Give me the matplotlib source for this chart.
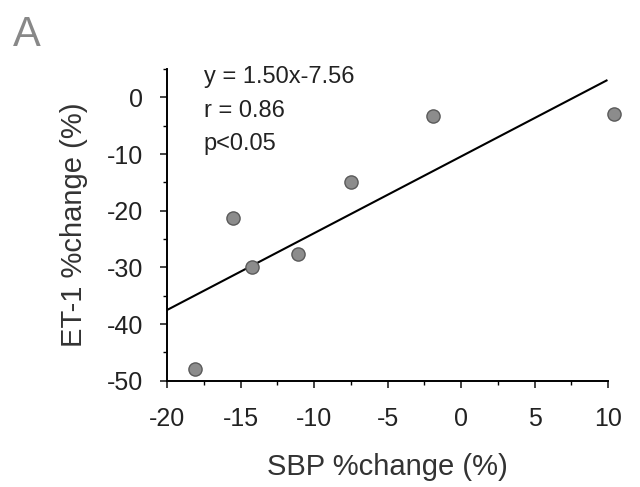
import matplotlib
matplotlib.use('Agg')
import matplotlib.pyplot as plt
from matplotlib.ticker import MultipleLocator

plt.rcParams['font.family'] = ['Liberation Sans', 'DejaVu Sans']
plt.rcParams['axes.unicode_minus'] = False

# SBP and ET-1 percent change
sbp_change = [-18.1, -15.5, -14.2, -11.1, -7.5, -1.9, 10.4]
et1_change = [-47.9, -21.2, -29.9, -27.6, -15.0, -3.2, -3.0]

# regression line as drawn
fit_x = [-20, 9.9]
fit_y = [-37.5, 3.0]

stats_lines = ['y = 1.50x-7.56', 'r = 0.86', 'p<0.05']
x_ticks = [-20, -15, -10, -5, 0, 5, 10]
y_ticks = [0, -10, -20, -30, -40, -50]

fig = plt.figure(figsize=(6.4, 4.87), dpi=100)
ax = fig.add_axes([0.261, 0.218, 0.689, 0.640])

ax.plot(fit_x, fit_y, color='black', lw=1.5)
ax.plot(sbp_change, et1_change, 'o', ms=9.5, mfc='#8c8c8c', mec='#5a5a5a',
        mew=1.0, clip_on=False, zorder=3)

ax.set_xlim(-20, 10)
ax.set_ylim(-50, 5)
ax.set_xticks(x_ticks)
ax.set_yticks(y_ticks)
ax.xaxis.set_minor_locator(MultipleLocator(2.5))
ax.yaxis.set_minor_locator(MultipleLocator(5))
ax.tick_params(axis='both', which='major', direction='out', length=5,
               width=1.2, labelsize=18, colors='#222222')
ax.tick_params(axis='x', which='major', pad=14)
ax.tick_params(axis='y', which='major', pad=12)
ax.tick_params(axis='both', which='minor', direction='out', length=3, width=1.0)

for s in ['top', 'right']:
    ax.spines[s].set_visible(False)
for s in ['left', 'bottom']:
    ax.spines[s].set_linewidth(1.4)

ax.set_xlabel('SBP %change (%)', fontsize=21, color='#333333', labelpad=16)
ax.set_ylabel('ET-1 %change (%)', fontsize=21, color='#333333', labelpad=14)

for i, t in enumerate(stats_lines):
    ax.text(0.083, 1.01 - i * 0.108, t, transform=ax.transAxes, fontsize=17,
            color='#222222', va='top', ha='left')

fig.text(0.02, 0.97, 'A', fontsize=30, color='#888888', va='top', ha='left')

fig.savefig('out.png', dpi=100)
